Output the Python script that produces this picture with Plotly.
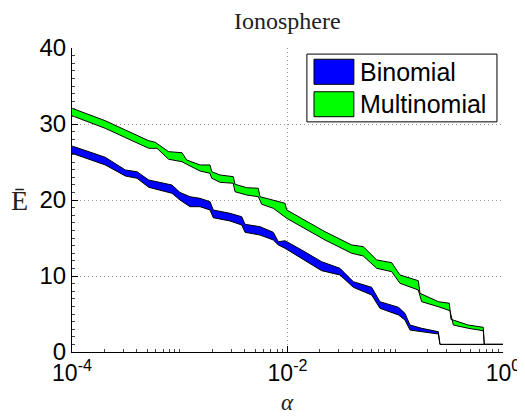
import plotly.graph_objects as go

# ---- data (x as log10(alpha)) ----
multi_upper_logx = [-4.000, -3.691, -3.505, -3.288, -3.227, -3.103, -2.979, -2.935, -2.812, -2.719,
                    -2.703, -2.626, -2.503, -2.487, -2.379, -2.271, -2.255, -2.132, -2.023, -2.007,
                    -1.838, -1.652, -1.404, -1.297, -1.172, -1.033, -0.956, -0.786, -0.770, -0.600,
                    -0.498, -0.483, -0.322, -0.183, -0.174, 0.000]
multi_upper_E = [32.07, 30.43, 29.21, 27.80, 27.59, 26.36, 26.22, 25.26, 24.61, 24.61,
                 23.72, 23.29, 23.07, 22.07, 21.62, 21.54, 20.43, 20.00, 19.57, 18.68,
                 17.37, 15.83, 14.08, 13.86, 12.11, 11.75, 10.13, 9.38, 7.72, 6.62,
                 6.41, 4.30, 3.55, 3.25, 1.00, 1.00]
multi_lower_logx = [-4.000, -3.691, -3.505, -3.288, -3.211, -3.103, -2.979, -2.935, -2.812, -2.719,
                    -2.703, -2.626, -2.503, -2.487, -2.379, -2.271, -2.239, -2.132, -2.007, -1.838,
                    -1.652, -1.404, -1.297, -1.172, -1.033, -0.956, -0.786, -0.755, -0.600, -0.492,
                    -0.461, -0.322, -0.183, -0.174, 0.000]
multi_lower_E = [31.09, 29.43, 28.25, 26.80, 26.80, 25.36, 25.04, 24.70, 23.82, 23.51,
                 22.86, 22.33, 22.20, 21.09, 20.66, 20.43, 19.43, 18.91, 17.59, 16.28,
                 14.74, 12.99, 12.63, 11.01, 10.57, 9.04, 8.16, 6.62, 5.96, 5.43,
                 3.55, 3.12, 2.80, 1.00, 1.00]

bino_upper_logx = [-4.000, -3.691, -3.505, -3.397, -3.288, -3.072, -2.998, -2.905, -2.812, -2.719,
                   -2.689, -2.534, -2.425, -2.394, -2.255, -2.132, -2.085, -2.023, -1.868, -1.683,
                   -1.513, -1.389, -1.219, -1.142, -0.970, -0.910, -0.863, -0.755, -0.600, -0.585,
                   0.000]
bino_upper_E = [27.11, 25.62, 23.95, 23.72, 22.63, 21.97, 21.00, 20.43, 20.22, 19.78,
                18.68, 18.25, 17.80, 16.80, 16.49, 15.75, 14.51, 14.64, 13.42, 11.88,
                11.01, 9.25, 8.51, 6.62, 5.88, 5.09, 3.55, 3.12, 2.67, 1.00,
                1.00]
bino_lower_logx = [-4.000, -3.691, -3.505, -3.397, -3.288, -3.072, -2.998, -2.905, -2.812, -2.719,
                   -2.689, -2.534, -2.425, -2.394, -2.255, -2.132, -2.085, -2.023, -1.868, -1.683,
                   -1.513, -1.389, -1.219, -1.142, -0.970, -0.910, -0.863, -0.755, -0.600, -0.585,
                   0.000]
bino_lower_E = [26.14, 24.61, 23.16, 22.86, 21.67, 20.88, 20.00, 19.12, 19.12, 18.68,
                17.67, 17.24, 16.71, 15.75, 15.39, 14.74, 14.08, 13.64, 12.33, 10.70,
                10.13, 8.51, 7.50, 5.75, 4.87, 4.21, 2.89, 2.67, 2.37, 1.00,
                1.00]

series_names = ["Binomial", "Multinomial"]
series_colors = ["#0000FF", "#00FF00"]
x_tickvals = [1e-4, 1e-2, 1e0]
x_ticktext = ["10<sup>-4</sup>", "10<sup>-2</sup>", "10<sup>0</sup>"]
y_tickvals = [0, 10, 20, 30, 40]

def band(ux, uy, lx, ly):
    xs = [10 ** v for v in ux] + [10 ** v for v in lx[::-1]]
    ys = list(uy) + list(ly[::-1])
    return xs, ys

fig = go.Figure()
bands = [band(bino_upper_logx, bino_upper_E, bino_lower_logx, bino_lower_E),
         band(multi_upper_logx, multi_upper_E, multi_lower_logx, multi_lower_E)]
for (xs, ys), name, col in zip(bands, series_names, series_colors):
    fig.add_trace(go.Scatter(x=xs, y=ys, mode="lines", fill="toself", fillcolor=col,
                             line=dict(color="black", width=1), name=name, showlegend=False))

minor_x = [k * 10 ** d for d in range(-4, 0) for k in range(1, 10)]

grid_kw = dict(showgrid=True, gridcolor="#999999", griddash="1px,3px", gridwidth=1)
fig.update_xaxes(type="log", range=[-4, 0], tickvals=x_tickvals, ticktext=x_ticktext,
                 ticks="inside", ticklen=6, tickcolor="black", showline=True, linecolor="black",
                 linewidth=1, zeroline=False, automargin=False,
                 tickfont=dict(family="Liberation Sans", size=23, color="black"),
                 minor=dict(tickvals=minor_x, ticks="inside", ticklen=3, tickcolor="#444", showgrid=False),
                 **grid_kw)
fig.update_yaxes(range=[0, 40], tickvals=y_tickvals, ticks="inside", ticklen=6, tickcolor="black",
                 showline=True, linecolor="black", linewidth=1, zeroline=False, automargin=False,
                 tickfont=dict(family="Liberation Sans", size=24, color="black"),
                 minor=dict(dtick=1, ticks="inside", ticklen=3, tickcolor="#444", showgrid=False),
                 **grid_kw)

annotations = [
    dict(text="Ionosphere", x=0.5, y=(352 - 21) / 304, xref="paper", yref="paper",
         showarrow=False, xanchor="center", yanchor="middle",
         font=dict(family="Liberation Serif", size=24, color="#222")),
    dict(text="Ē", x=-0.121, y=0.5, xref="paper", yref="paper", showarrow=False,
         xanchor="center", yanchor="middle", font=dict(family="Liberation Serif", size=28, color="#222")),
    dict(text="<i>α</i>", x=0.5, y=(352 - 403) / 304, xref="paper", yref="paper", showarrow=False,
         xanchor="center", yanchor="middle", font=dict(family="Liberation Serif", size=23, color="#222")),
]
# legend box (drawn in paper coordinates)
shapes = [dict(type="rect", xref="paper", yref="paper", x0=0.545, x1=0.986, y0=0.757, y1=0.980,
               line=dict(color="black", width=1), fillcolor="white", layer="above")]
legend_rows = [(0.9217, 0.963, 0.8806), (0.8158, 0.856, 0.774)]
for (yc, yt, yb), name, col in zip(legend_rows, series_names, series_colors):
    shapes.append(dict(type="rect", xref="paper", yref="paper", x0=0.5615, x1=0.654, y0=yb, y1=yt,
                       line=dict(color="black", width=1), fillcolor=col, layer="above"))
    annotations.append(dict(text=name, x=0.6636, y=yc, xref="paper", yref="paper", showarrow=False,
                            xanchor="left", yanchor="middle",
                            font=dict(family="Liberation Sans", size=25, color="black")))

# page body adds an 8px offset, so the figure is 8px smaller and the margins compensate
fig.update_layout(width=517, height=409, margin=dict(l=64, r=22, t=40, b=65, autoexpand=False),
                  plot_bgcolor="white", paper_bgcolor="white",
                  annotations=annotations, shapes=shapes, showlegend=False)

fig.write_html("out.html")
